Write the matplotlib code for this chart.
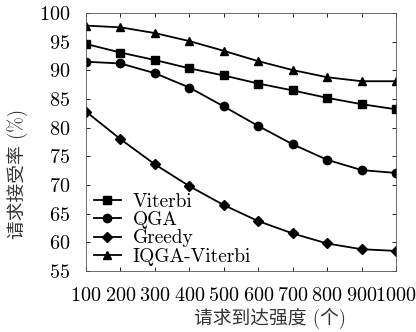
import matplotlib
matplotlib.use("Agg")
import matplotlib.pyplot as plt

plt.rcParams['font.family'] = ['cmr10', 'Noto Sans CJK SC']
plt.rcParams['axes.formatter.use_mathtext'] = True

x = [100, 200, 300, 400, 500, 600, 700, 800, 900, 1000]
viterbi = [94.6, 93.1, 91.8, 90.35, 89.1, 87.7, 86.5, 85.2, 84.1, 83.2]
qga = [91.5, 91.2, 89.5, 87.0, 83.7, 80.3, 77.1, 74.4, 72.6, 72.1]
greedy = [82.8, 78.0, 73.6, 69.8, 66.5, 63.7, 61.55, 59.8, 58.8, 58.5]
iqga = [97.8, 97.5, 96.5, 95.1, 93.4, 91.6, 90.05, 88.8, 88.1, 88.1]

labels = ['Viterbi', 'QGA', 'Greedy', 'IQGA-Viterbi']
markers = ['s', 'o', 'D', '^']

fig = plt.figure(figsize=(4.16, 3.32), dpi=100)
ax = fig.add_axes([86/416, 61/332, 310/416, 258/332])

for ys, lab, m in zip([viterbi, qga, greedy, iqga], labels, markers):
    ms = 5 if m == 'D' else 6
    ax.plot(x, ys, color='black', lw=1.3, marker=m, ms=ms, label=lab)

ax.set_xlim(100, 1000)
ax.set_ylim(55, 100)
ax.set_xticks(x)
ax.set_yticks(range(55, 101, 5))
ax.tick_params(direction='in', top=True, right=True, labelsize=14.5, length=3, width=0.6, pad=11.5)
for s in ax.spines.values():
    s.set_linewidth(0.6)
    s.set_color('#555555')

# axis titles placed in figure pixels
fig.text(18/416, 1 - 174/332, '请求接受率 (%)', fontsize=13.5, color='#333333',
         rotation=90, ha='center', va='center')
fig.text(270/416, 1 - 318/332, '请求到达强度 (个)', fontsize=13.5, color='#333333',
         ha='center', va='center')

ax.legend(loc='lower left', frameon=False, fontsize=14, handlelength=1.4,
          handletextpad=0.6, labelspacing=0.02, borderaxespad=0.0,
          bbox_to_anchor=(0.0, -0.01))

fig.savefig('out.png', dpi=100)
